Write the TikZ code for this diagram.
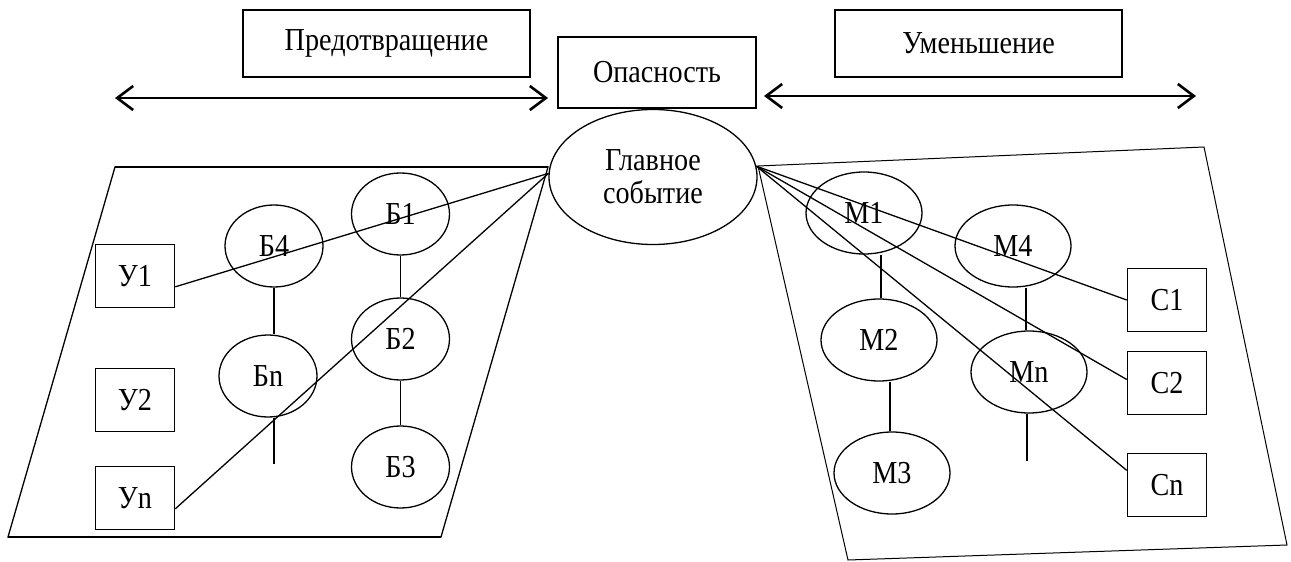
\documentclass[tikz,border=0pt]{standalone}
\usepackage{fontspec}
\setmainfont{Liberation Serif}[FakeStretch=0.88]
\usetikzlibrary{shapes.geometric,arrows.meta}

\begin{document}
\begin{tikzpicture}[x=1pt,y=-1pt,
  every node/.style={font=\fontsize{32}{33}\selectfont, inner sep=0pt},
  titlebox/.style={draw, line width=1.6pt, minimum width=287pt, minimum height=67pt},
  leafbox/.style={draw, line width=1.6pt, minimum width=79pt, minimum height=63pt},
  bnode/.style={draw, ellipse, line width=1.3pt, minimum width=98pt, minimum height=82pt},
  mnode/.style={draw, ellipse, line width=1.3pt, minimum width=116pt, minimum height=82pt},
  link/.style={line width=1.3pt},
  frame/.style={line width=1.3pt, line join=miter},
  span/.style={line width=2.6pt, {Straight Barb[length=16pt,width=24pt]}-{Straight Barb[length=16pt,width=24pt]}},
]
\fill[white] (0,0) rectangle (1291,562);
\useasboundingbox (0,0) rectangle (1291,562);

% headings
\node[titlebox] (prev) at (386.5,43.5) {Предотвращение};
\node[titlebox] (redu) at (978.5,43.5) {Уменьшение};
\node[draw, line width=1.6pt, minimum width=198pt, minimum height=71pt] (hazard) at (657,72.5) {Опасность};

% central event
\node[draw, ellipse, line width=1.3pt, minimum width=208pt, minimum height=135pt, align=center] (event) at (653,177) {Главное\\событие};

% range arrows
\coordinate (pl) at (115,98);
\coordinate (pr) at (548,98);
\coordinate (ml) at (764,96);
\coordinate (mr) at (1196,96);
\draw[span] (pl) -- (pr);
\draw[span] (ml) -- (mr);

% prevention area
\coordinate (a1) at (115,167);
\coordinate (a2) at (548,167);
\coordinate (a3) at (441,537);
\coordinate (a4) at (8,537);
\draw[frame] (a1) -- (a2) -- (a3) -- (a4) -- cycle;
\draw[line width=2.2pt] (a1) -- (a2) (a3) -- (a4);

% mitigation area
\coordinate (b1) at (758,166);
\coordinate (b2) at (1204,147);
\coordinate (b3) at (1287,545);
\coordinate (b4) at (848,560);
\draw[line width=1pt] (b1) -- (b2) -- (b3) -- (b4) -- cycle;

% causes
\node[leafbox] (u1) at (135,276) {У1};
\node[leafbox] (u2) at (135,400) {У2};
\node[leafbox] (un) at (135,498) {Уn};

% barriers
\node[bnode] (b4n) at (274,246) {Б4};
\node[bnode] (b1n) at (400.5,214) {Б1};
\node[bnode] (b2n) at (400.5,339) {Б2};
\node[bnode] (bnn) at (268,376) {Бn};
\node[bnode] (b3n) at (400.5,467) {Б3};
\coordinate (btail) at (274,464);

\draw[link] (b4n.south) -- (b4n.south |- bnn.north);
\draw[link] (b4n.south |- bnn.south) -- (btail);
\draw[link] (b1n.south) -- (b2n.north);
\draw[link] (b2n.south) -- (b3n.north);

\draw[link] (u1.-15) -- (event.178);
\draw[link] (un.-15) -- (event.178);

% consequences
\node[leafbox] (c1) at (1167,300) {С1};
\node[leafbox] (c2) at (1167,383) {С2};
\node[leafbox] (cn) at (1167,485) {Сn};

% mitigation measures
\node[mnode] (m1) at (864,213) {М1};
\node[mnode] (m4) at (1013,246) {М4};
\node[mnode] (m2) at (879,340) {М2};
\node[mnode] (mn) at (1029,372) {Мn};
\node[mnode] (m3) at (892,473) {М3};
\coordinate (mtail) at (1027,461);

\draw[link] (m2.north -| 881,0) -- (m1.south -| 881,0);
\draw[link] (m3.north -| 890,0) -- (m2.south -| 890,0);
\draw[link] (mn.north -| 1026,0) -- (m4.south -| 1026,0);
\draw[link] (mn.south -| mtail) -- (mtail);

\draw[link] (event.6) -- (c1.west);
\draw[link] (event.6) -- (c2.175);
\draw[link] (event.6) -- (cn.160);
\end{tikzpicture}
\end{document}
